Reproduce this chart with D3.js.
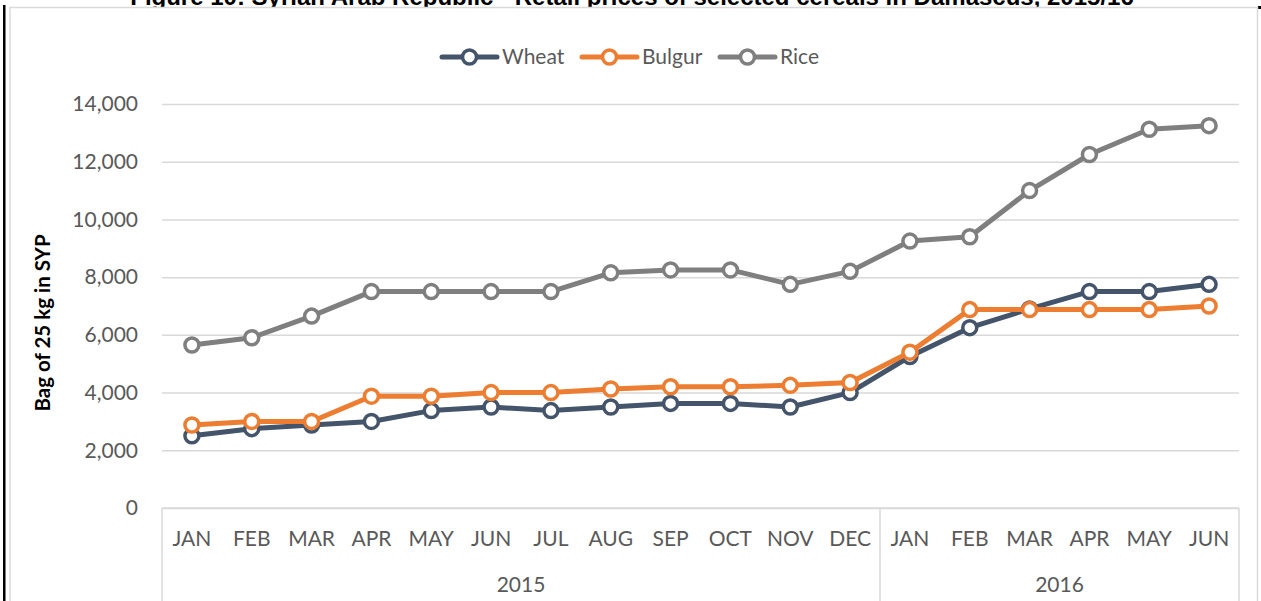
<!DOCTYPE html>
<html>
<head>
<meta charset="utf-8">
<script src="https://cdn.jsdelivr.net/npm/d3@7"></script>
<style>
  body { margin: 0; background: #fff; }
  svg { display: block; }
</style>
</head>
<body>
<div id="chart"></div>
<script>
// ---------------------------------------------------------------
// data
// ---------------------------------------------------------------
var months = ["JAN","FEB","MAR","APR","MAY","JUN","JUL","AUG","SEP","OCT","NOV","DEC",
              "JAN","FEB","MAR","APR","MAY","JUN"];
var years = [
  { label: "2015", from: 0, to: 12 },
  { label: "2016", from: 12, to: 18 }
];
var wheat  = [2500, 2750, 2875, 3000, 3375, 3500, 3375, 3500, 3625, 3625, 3500, 4000,
              5250, 6250, 6900, 7500, 7500, 7750];
var bulgur = [2875, 3000, 3000, 3875, 3875, 4000, 4000, 4125, 4200, 4200, 4250, 4350,
              5400, 6875, 6875, 6875, 6875, 7000];
var rice   = [5650, 5900, 6650, 7500, 7500, 7500, 7500, 8150, 8250, 8250, 7750, 8200,
              9250, 9400, 11000, 12250, 13125, 13250];
var yTicks = [0, 2000, 4000, 6000, 8000, 10000, 12000, 14000];

var series = [
  { name: "Wheat",  values: wheat,  color: "#44546A" },
  { name: "Bulgur", values: bulgur, color: "#ED7D31" },
  { name: "Rice",   values: rice,   color: "#7F7F7F" }
];

// ---------------------------------------------------------------
// svg
// ---------------------------------------------------------------
var svgWidth = 1261, svgHeight = 601;
var svg = d3.select("#chart").append("svg")
  .attr("width", svgWidth)
  .attr("height", svgHeight);

var font = "Lato, 'Open Sans', sans-serif";
var grey = "#d9d9d9";

// title, mostly cut off at the top
svg.append("text")
  .attr("x", 632).attr("y", 5)
  .attr("text-anchor", "middle")
  .style("font-family", "'Liberation Sans', Arial, sans-serif")
  .style("font-weight", "bold")
  .style("font-size", "24px")
  .attr("fill", "#000")
  .text("Figure 10: Syrian Arab Republic - Retail prices of selected cereals in Damascus, 2015/16");

// page frame
svg.append("rect").attr("x", 3).attr("y", 5).attr("width", 2.5).attr("height", 600).attr("fill", "#000");
svg.append("rect").attr("x", 1258).attr("y", 6).attr("width", 3).attr("height", 3).attr("fill", "#000");

// chart area border
svg.append("rect")
  .attr("x", 10).attr("y", 7.5)
  .attr("width", 1247.5).attr("height", 610)
  .attr("fill", "#fff")
  .attr("stroke", grey).attr("stroke-width", 1.5);

// ---------------------------------------------------------------
// scales
// ---------------------------------------------------------------
var plotLeft = 162, plotRight = 1239, plotTop = 104, plotBottom = 508;

var x = d3.scaleBand()
  .domain(d3.range(months.length))
  .range([plotLeft, plotRight])
  .paddingInner(0).paddingOuter(0);
var bw = x.bandwidth();
var cx = i => x(i) + bw / 2;

var y = d3.scaleLinear().domain([0, 14000]).range([plotBottom, plotTop]);

// gridlines + y labels
var yAxis = d3.axisLeft(y)
  .tickValues(yTicks)
  .tickSize(-(plotRight - plotLeft))
  .tickPadding(24)
  .tickFormat(d3.format(","));

var gy = svg.append("g")
  .attr("transform", `translate(${plotLeft},0)`)
  .call(yAxis);
gy.select(".domain").remove();
gy.selectAll(".tick line").attr("stroke", grey).attr("stroke-width", 1.5);
gy.selectAll(".tick text")
  .attr("x", -24)
  .attr("fill", "#595959")
  .style("font-family", font)
  .style("font-size", "21px");

// category axis box
var cat = svg.append("g");
cat.append("line")
  .attr("x1", plotLeft).attr("x2", plotRight).attr("y1", plotBottom).attr("y2", plotBottom)
  .attr("stroke", grey).attr("stroke-width", 1.5);
[0, 12, 18].forEach(function (i) {
  var xx = i < months.length ? x(i) : plotRight;
  cat.append("line")
    .attr("x1", xx).attr("x2", xx).attr("y1", plotBottom).attr("y2", svgHeight)
    .attr("stroke", grey).attr("stroke-width", 1.5);
});

cat.selectAll(".month")
  .data(months)
  .enter().append("text")
  .attr("class", "month")
  .attr("x", (d, i) => cx(i))
  .attr("y", 546)
  .attr("text-anchor", "middle")
  .attr("fill", "#595959")
  .style("font-family", font)
  .style("font-size", "21px")
  .text(d => d);

cat.selectAll(".year")
  .data(years)
  .enter().append("text")
  .attr("class", "year")
  .attr("x", d => (x(d.from) + (d.to < months.length ? x(d.to) : plotRight)) / 2)
  .attr("y", 592)
  .attr("text-anchor", "middle")
  .attr("fill", "#595959")
  .style("font-family", font)
  .style("font-size", "21px")
  .text(d => d.label);

// y axis title
svg.append("text")
  .attr("transform", "translate(50,323) rotate(-90)")
  .attr("text-anchor", "middle")
  .attr("fill", "#000")
  .style("font-family", font)
  .style("font-weight", "bold")
  .style("font-size", "20.5px")
  .text("Bag of 25 kg in SYP");

// ---------------------------------------------------------------
// lines and markers
// ---------------------------------------------------------------
var line = d3.line()
  .x((d, i) => cx(i))
  .y(d => y(d));

series.forEach(function (s) {
  var g = svg.append("g");
  g.append("path")
    .datum(s.values)
    .attr("d", line)
    .attr("fill", "none")
    .attr("stroke", s.color)
    .attr("stroke-width", 5)
    .attr("stroke-linejoin", "round");
  g.selectAll("circle")
    .data(s.values)
    .enter().append("circle")
    .attr("cx", (d, i) => cx(i))
    .attr("cy", d => y(d))
    .attr("r", 7)
    .attr("fill", "#fff")
    .attr("stroke", s.color)
    .attr("stroke-width", 3.5);
});

// ---------------------------------------------------------------
// legend
// ---------------------------------------------------------------
var legendX = [442, 582, 720];
var legend = svg.append("g");
series.forEach(function (s, i) {
  var lg = legend.append("g").attr("transform", `translate(${legendX[i]},57)`);
  lg.append("line")
    .attr("x1", 0).attr("x2", 55).attr("y1", 0).attr("y2", 0)
    .attr("stroke", s.color).attr("stroke-width", 5).attr("stroke-linecap", "round");
  lg.append("circle")
    .attr("cx", 27.5).attr("cy", 0).attr("r", 7)
    .attr("fill", "#fff").attr("stroke", s.color).attr("stroke-width", 3.5);
  lg.append("text")
    .attr("x", 60).attr("y", 7)
    .attr("fill", "#595959")
    .style("font-family", font)
    .style("font-size", "21px")
    .text(s.name);
});
</script>
</body>
</html>
